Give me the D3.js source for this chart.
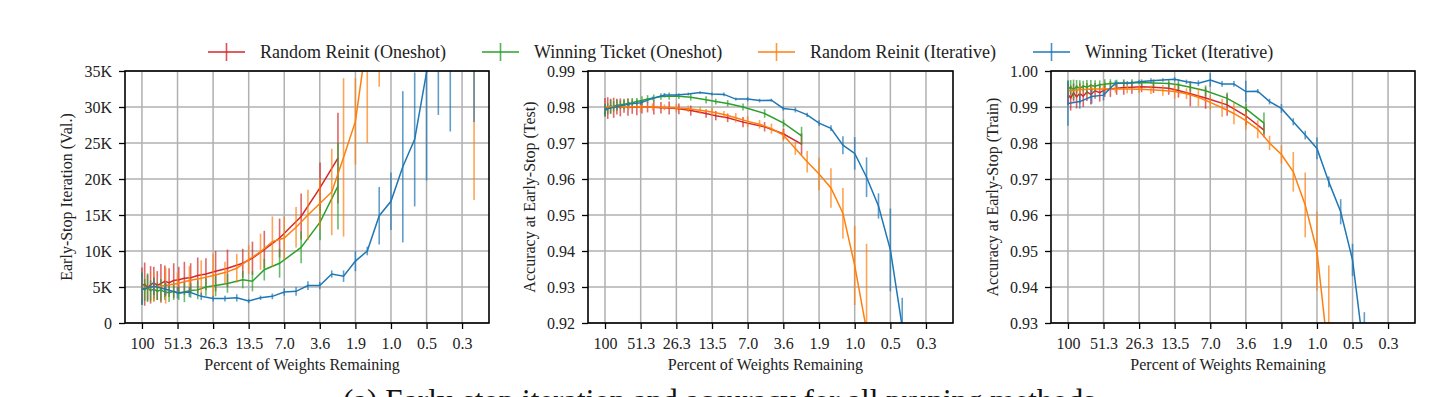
<!DOCTYPE html>
<html><head><meta charset="utf-8">
<script src="https://cdn.jsdelivr.net/npm/d3@7"></script>
<style>
body{margin:0;background:#fff;}
svg{display:block;font-family:"Liberation Serif","Times New Roman",serif;}
</style></head><body>
<svg id="chart" width="1456" height="397"></svg>
<script>
// ---------------- data ----------------
const seriesNames = ["Random Reinit (Oneshot)", "Winning Ticket (Oneshot)", "Random Reinit (Iterative)", "Winning Ticket (Iterative)"];
const seriesColors = ["#d62728", "#2ca02c", "#ff7f0e", "#1f77b4"];

const iterPct = [100, 80, 64, 51.2, 40.96, 32.77, 26.21, 20.97, 16.78, 13.42, 10.74, 8.59, 6.87, 5.50, 4.40, 3.52, 2.81, 2.25, 1.80, 1.44, 1.15, 0.922, 0.738, 0.590, 0.472, 0.378, 0.302, 0.242, 0.193];
const oneshotPct = [100, 95, 90, 85, 80, 75, 70, 65, 60, 55, 50, 45, 40, 35, 30, 25, 20, 15, 12.5, 10, 7.5, 5, 3.5, 2.5];

const xTickValues = [100, 51.2, 26.21, 13.42, 6.87, 3.52, 1.80, 0.922, 0.472, 0.242];
const xTickLabels = ["100", "51.3", "26.3", "13.5", "7.0", "3.6", "1.9", "1.0", "0.5", "0.3"];

const yTicksIter = [0, 5000, 10000, 15000, 20000, 25000, 30000, 35000];
const yTicksTest = [0.92, 0.93, 0.94, 0.95, 0.96, 0.97, 0.98, 0.99];
const yTicksTrain = [0.93, 0.94, 0.95, 0.96, 0.97, 0.98, 0.99, 1.00];

// Panel 1: early-stop iteration (val.)
const p1RandOneMean = [5200,5400,4900,5300,5600,5200,5500,5800,5600,5900,6000,6200,6300,6600,6800,7200,7600,8300,9000,10200,11800,14800,18800,22900];
const p1RandOneErr  = [2500,3000,1800,2600,2200,2000,2700,2200,2000,2400,1800,2300,2000,2500,2200,2800,2600,2000,2300,2600,2700,3200,3500,6300];
const p1WinOneMean  = [4800,4600,4900,4500,4700,4400,4600,4300,4200,4400,4100,4300,4500,4600,5000,5200,5500,6000,5800,7400,8300,10500,14000,19000];
const p1WinOneErr   = [2300,1500,2000,1400,1700,1200,1500,1100,1300,1200,900,1400,1000,1300,1200,1500,1300,1200,1400,1500,2000,2200,2500,6000];
const p1RandIterMean = [4800,5000,5200,5500,5900,6200,6600,7000,7600,8800,9900,11300,11800,13300,15000,16600,18200,23000,28000,39800,45000,50000,52000,54000,55000,55000,55000,55000,40000];
const p1RandIterErr  = [1500,2000,2500,1500,2000,2500,3000,1500,2000,2000,2500,3500,3000,2800,3500,3500,6000,11000,6000,14800,12200,14000,15000,15000,15000,15000,15000,15000,22900];
const p1WinIterMean = [4700,5100,4700,4200,4300,3700,3400,3400,3500,3050,3500,3700,4300,4400,5200,5200,6800,6500,8600,10000,14900,16900,21700,25500,34800,40000,42000,44000,45000];
const p1WinIterErr  = [2200,1200,900,800,700,500,400,400,500,300,300,400,500,600,600,500,500,800,1400,600,4000,4000,10500,9300,15000,11100,15400,8000,17100];

// Panel 2: accuracy at early-stop (test)
const p2RandOneMean = [0.9800,0.9797,0.9803,0.9798,0.9801,0.9799,0.9802,0.9800,0.9801,0.9799,0.9800,0.9800,0.9799,0.9798,0.9797,0.9795,0.9790,0.9782,0.9776,0.9770,0.9758,0.9745,0.9725,0.9697];
const p2RandOneErr  = [0.0025,0.0030,0.0020,0.0028,0.0022,0.0025,0.0018,0.0024,0.0020,0.0022,0.0018,0.0015,0.0020,0.0016,0.0018,0.0015,0.0014,0.0012,0.0013,0.0012,0.0014,0.0013,0.0015,0.0030];
const p2WinOneMean  = [0.9790,0.9795,0.9800,0.9802,0.9805,0.9806,0.9808,0.9810,0.9812,0.9815,0.9818,0.9822,0.9825,0.9829,0.9830,0.9830,0.9827,0.9820,0.9815,0.9810,0.9800,0.9782,0.9755,0.9720];
const p2WinOneErr   = [0.0018,0.0015,0.0020,0.0014,0.0016,0.0012,0.0015,0.0012,0.0013,0.0010,0.0012,0.0011,0.0010,0.0009,0.0010,0.0008,0.0009,0.0010,0.0008,0.0009,0.0010,0.0012,0.0010,0.0025];
const p2RandIterMean = [0.9800,0.9801,0.9801,0.9800,0.9800,0.9799,0.9797,0.9795,0.9791,0.9786,0.9779,0.9770,0.9760,0.9752,0.9740,0.9722,0.9685,0.9648,0.9614,0.9575,0.9505,0.9360,0.9180];
const p2RandIterErr  = [0.0012,0.0010,0.0008,0.0015,0.0010,0.0008,0.0012,0.0009,0.0010,0.0012,0.0010,0.0013,0.0015,0.0012,0.0014,0.0015,0.0018,0.0030,0.0045,0.0055,0.0070,0.0110,0.0240];
const p2WinIterMean = [0.9794,0.9801,0.9808,0.9812,0.9824,0.9833,0.9833,0.9836,0.9840,0.9836,0.9835,0.9822,0.9822,0.9818,0.9819,0.9796,0.9792,0.9778,0.9755,0.9741,0.9694,0.9671,0.9605,0.9525,0.9403,0.9190];
const p2WinIterErr  = [0.0015,0.0008,0.0006,0.0006,0.0005,0.0006,0.0004,0.0004,0.0003,0.0004,0.0005,0.0004,0.0006,0.0005,0.0004,0.0006,0.0007,0.0006,0.0008,0.0008,0.0025,0.0045,0.0055,0.0035,0.0115,0.0080];

// Panel 3: accuracy at early-stop (train)
const p3RandOneMean = [0.9935,0.9925,0.9940,0.9928,0.9938,0.9930,0.9942,0.9935,0.9945,0.9940,0.9948,0.9950,0.9952,0.9954,0.9955,0.9956,0.9955,0.9952,0.9946,0.9937,0.9925,0.9906,0.9875,0.9836];
const p3RandOneErr  = [0.0030,0.0035,0.0025,0.0032,0.0028,0.0030,0.0025,0.0028,0.0022,0.0025,0.0020,0.0022,0.0018,0.0020,0.0018,0.0015,0.0016,0.0018,0.0020,0.0035,0.0030,0.0030,0.0025,0.0020];
const p3WinOneMean  = [0.9950,0.9955,0.9948,0.9957,0.9952,0.9958,0.9955,0.9960,0.9958,0.9962,0.9963,0.9965,0.9966,0.9967,0.9967,0.9968,0.9967,0.9965,0.9962,0.9955,0.9945,0.9924,0.9895,0.9855];
const p3WinOneErr   = [0.0025,0.0020,0.0028,0.0018,0.0022,0.0015,0.0020,0.0015,0.0016,0.0012,0.0014,0.0012,0.0010,0.0010,0.0010,0.0009,0.0010,0.0012,0.0015,0.0012,0.0015,0.0016,0.0015,0.0030];
const p3RandIterMean = [0.9945,0.9948,0.9950,0.9950,0.9950,0.9950,0.9949,0.9948,0.9946,0.9943,0.9937,0.9927,0.9913,0.9898,0.9882,0.9862,0.9838,0.9800,0.9768,0.9720,0.9628,0.9500,0.9200];
const p3RandIterErr  = [0.0015,0.0012,0.0010,0.0012,0.0010,0.0012,0.0010,0.0012,0.0015,0.0020,0.0015,0.0025,0.0020,0.0025,0.0030,0.0025,0.0025,0.0020,0.0025,0.0055,0.0090,0.0110,0.0260];
const p3WinIterMean = [0.9910,0.9915,0.9929,0.9933,0.9966,0.9966,0.9970,0.9973,0.9975,0.9977,0.9970,0.9966,0.9975,0.9964,0.9964,0.9943,0.9944,0.9915,0.9896,0.9859,0.9822,0.9785,0.9692,0.9609,0.9475,0.9210];
const p3WinIterErr  = [0.0062,0.0020,0.0020,0.0015,0.0008,0.0006,0.0006,0.0007,0.0005,0.0006,0.0006,0.0008,0.0019,0.0008,0.0008,0.0030,0.0006,0.0008,0.0012,0.0010,0.0012,0.0030,0.0015,0.0035,0.0045,0.0120];

const yLabels = ["Early-Stop Iteration (Val.)", "Accuracy at Early-Stop (Test)", "Accuracy at Early-Stop (Train)"];
const xLabel = "Percent of Weights Remaining";
const caption = "(a) Early-stop iteration and accuracy for all pruning methods.";

// ---------------- layout ----------------
const svg = d3.select("#chart");
const TOP = 71, BOTTOM = 323;
const xDomain = [137.6, 0.1457];
const gridColor = "#b0b0b0";

function mk(xs, m, e) { return xs.slice(0, m.length).map((x, i) => ({x, m: m[i], e: e[i]})); }

const panels = [
  {left: 125, right: 489, yDomain: [0, 35000], yTicks: yTicksIter, yFmt: v => v === 0 ? "0" : (v / 1000) + "K",
   series: [mk(oneshotPct, p1RandOneMean, p1RandOneErr), mk(oneshotPct, p1WinOneMean, p1WinOneErr),
            mk(iterPct, p1RandIterMean, p1RandIterErr), mk(iterPct, p1WinIterMean, p1WinIterErr)]},
  {left: 588, right: 953, yDomain: [0.92, 0.99], yTicks: yTicksTest, yFmt: d3.format(".2f"),
   series: [mk(oneshotPct, p2RandOneMean, p2RandOneErr), mk(oneshotPct, p2WinOneMean, p2WinOneErr),
            mk(iterPct, p2RandIterMean, p2RandIterErr), mk(iterPct, p2WinIterMean, p2WinIterErr)]},
  {left: 1051, right: 1415, yDomain: [0.93, 1.00], yTicks: yTicksTrain, yFmt: d3.format(".2f"),
   series: [mk(oneshotPct, p3RandOneMean, p3RandOneErr), mk(oneshotPct, p3WinOneMean, p3WinOneErr),
            mk(iterPct, p3RandIterMean, p3RandIterErr), mk(iterPct, p3WinIterMean, p3WinIterErr)]}
];

const defs = svg.append("defs");

panels.forEach((p, pi) => {
  const x = d3.scaleLog().domain(xDomain).range([p.left, p.right]);
  const y = d3.scaleLinear().domain(p.yDomain).range([BOTTOM, TOP]);
  const g = svg.append("g");

  defs.append("clipPath").attr("id", "clip" + pi).append("rect")
    .attr("x", p.left).attr("y", TOP).attr("width", p.right - p.left).attr("height", BOTTOM - TOP);

  // grid
  g.append("g").selectAll("line").data(xTickValues).join("line")
    .attr("x1", d => x(d)).attr("x2", d => x(d)).attr("y1", TOP).attr("y2", BOTTOM)
    .attr("stroke", gridColor).attr("stroke-width", 1.5);
  g.append("g").selectAll("line").data(p.yTicks).join("line")
    .attr("x1", p.left).attr("x2", p.right).attr("y1", d => y(d)).attr("y2", d => y(d))
    .attr("stroke", gridColor).attr("stroke-width", 1.5);

  // series
  const dg = g.append("g").attr("clip-path", `url(#clip${pi})`);
  p.series.forEach((pts, si) => {
    const col = seriesColors[si];
    const sg = dg.append("g");
    sg.selectAll("line").data(pts).join("line")
      .attr("x1", d => x(d.x)).attr("x2", d => x(d.x))
      .attr("y1", d => y(d.m - d.e)).attr("y2", d => y(d.m + d.e))
      .attr("stroke", col).attr("stroke-width", 1.6).attr("opacity", 0.7);
    sg.append("path").datum(pts)
      .attr("d", d3.line().x(d => x(d.x)).y(d => y(d.m)))
      .attr("fill", "none").attr("stroke", col).attr("stroke-width", 1.5);
  });

  // frame
  g.append("rect").attr("x", p.left).attr("y", TOP).attr("width", p.right - p.left).attr("height", BOTTOM - TOP)
    .attr("fill", "none").attr("stroke", "#000").attr("stroke-width", 1.6);

  // axes
  const xa = g.append("g").attr("transform", `translate(0,${BOTTOM})`)
    .call(d3.axisBottom(x).tickValues(xTickValues).tickFormat((d, i) => xTickLabels[i]).tickSize(6).tickPadding(9));
  const ya = g.append("g").attr("transform", `translate(${p.left},0)`)
    .call(d3.axisLeft(y).tickValues(p.yTicks).tickFormat(p.yFmt).tickSize(6).tickPadding(7));
  [xa, ya].forEach(a => {
    a.select(".domain").remove();
    a.attr("font-family", null).attr("font-size", null);
    a.selectAll("line").attr("stroke", "#000").attr("stroke-width", 1.3);
    a.selectAll("text").attr("fill", "#222").style("font-size", "16px");
  });

  g.append("text").attr("x", (x(100) + x(0.242)) / 2).attr("y", 370).attr("text-anchor", "middle")
    .style("font-size", "16px").attr("fill", "#222").text(xLabel);
  g.append("text").attr("transform", `translate(${p.left - 53},${(TOP + BOTTOM) / 2}) rotate(-90)`)
    .attr("text-anchor", "middle").style("font-size", "16px").attr("fill", "#222").text(yLabels[pi]);
});

// legend
const legendX = [208, 482, 758, 1033];
const lg = svg.append("g");
seriesNames.forEach((name, i) => {
  const gx = legendX[i], gy = 52;
  const it = lg.append("g");
  it.append("line").attr("x1", gx).attr("x2", gx + 37).attr("y1", gy).attr("y2", gy)
    .attr("stroke", seriesColors[i]).attr("stroke-width", 1.6);
  it.append("line").attr("x1", gx + 18.5).attr("x2", gx + 18.5).attr("y1", gy - 9).attr("y2", gy + 9)
    .attr("stroke", seriesColors[i]).attr("stroke-width", 1.6).attr("opacity", 0.8);
  it.append("text").attr("x", gx + 52).attr("y", gy + 6).style("font-size", "18px").attr("fill", "#222").text(name);
});

// caption (cut off by the bottom edge, as in the reference)
svg.append("text").attr("x", 343).attr("y", 411).style("font-size", "31px").attr("fill", "#111").text(caption);
</script>
</body></html>
